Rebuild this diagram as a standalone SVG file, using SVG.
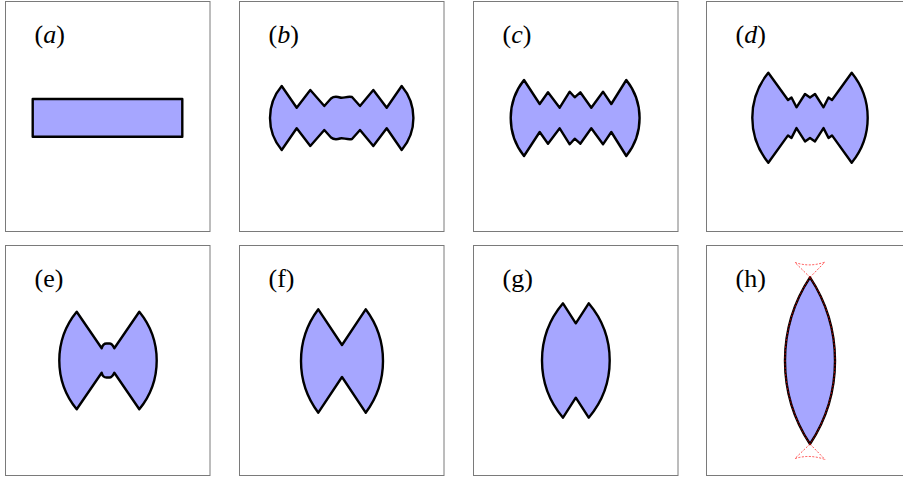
<svg xmlns="http://www.w3.org/2000/svg" width="903" height="479" viewBox="0 0 903 479">
<style>
.frame{fill:#fff;stroke:#7a7a7a;stroke-width:1}
.shape{fill:#a6a6ff;stroke:#000;stroke-width:2.4;stroke-linejoin:round}
.lbl{font-family:"Liberation Serif","Times New Roman",serif;font-size:26px;fill:#000}
.red{fill:none;stroke:#f00;stroke-opacity:0.75;stroke-width:0.9;stroke-dasharray:2 1.5}
</style>
<rect width="903" height="479" fill="#fff"/>
<g id="panel-a">
<rect class="frame" x="5.5" y="1.5" width="204.5" height="230"/>
<text class="lbl" x="34.5" y="43">(<tspan font-style="italic">a</tspan>)</text>
<rect class="shape" x="32.7" y="99" width="149.6" height="37.7"/>
</g>
<g id="panel-b">
<rect class="frame" x="239.5" y="1.5" width="204.5" height="230"/>
<text class="lbl" x="268.5" y="43">(<tspan font-style="italic">b</tspan>)</text>
<path class="shape" d="M281.7 86 L296.7 107.7 L310.3 90 L324.3 106 L331 98.5 C334 96 337 96.5 340 97.5 C343 98.5 347 96 352 97 L360 106 L373.3 90 L386.7 107.7 L401.7 86 A49.6 49.6 0 0 1 401.7 150 L386.7 128.3 L373.3 146 L360 130 L352 139 C347 140 343 137.5 340 138.5 C337 139.5 334 140 331 137.5 L324.3 130 L310.3 146 L296.7 128.3 L281.7 150 A49.6 49.6 0 0 1 281.7 86 Z"/>
</g>
<g id="panel-c">
<rect class="frame" x="473.5" y="1.5" width="204.5" height="230"/>
<text class="lbl" x="502.5" y="43">(<tspan font-style="italic">c</tspan>)</text>
<path class="shape" d="M524 80 L539.7 104 L548 92.3 L559.7 107.7 L569.7 91.7 L574.7 97.3 L580.3 92.3 L591.3 107.7 L603 91.7 L611.3 104 L626.3 80 A61 61 0 0 1 626.3 156 L611.3 132 L603 144.3 L591.3 128.3 L580.3 143.7 L574.7 138.7 L569.7 144.3 L559.7 128.3 L548 143.7 L539.7 132 L524 156 A61 61 0 0 1 524 80 Z"/>
</g>
<g id="panel-d">
<rect class="frame" x="706.5" y="1.5" width="204.5" height="230"/>
<text class="lbl" x="735.5" y="43">(<tspan font-style="italic">d</tspan>)</text>
<path class="shape" d="M768.3 72.7 L788 100 L791.5 97.5 L796.5 107.3 L805 94 L810 97.5 L815 94 L823.5 107.3 L828.5 97.5 L832 100 L851.7 72.7 A71.3 71.3 0 0 1 851.7 162.7 L832 135.4 L828.5 137.9 L823.5 128.1 L815 141.4 L810 137.9 L805 141.4 L796.5 128.1 L791.5 137.9 L788 135.4 L768.3 162.7 A71.3 71.3 0 0 1 768.3 72.7 Z"/>
</g>
<g id="panel-e">
<rect class="frame" x="5.5" y="245.5" width="204.5" height="230"/>
<text class="lbl" x="34.5" y="287">(e)</text>
<path class="shape" d="M76.7 311.7 L101.7 348.3 C102.5 345 104 343.5 106.5 343.5 L109.5 343.5 C112 343.5 113 345.5 114.3 348.3 L139.3 311.7 A77.1 77.1 0 0 1 139.3 409.3 L114.3 372.7 C113 375.5 112 377.5 109.5 377.5 L106.5 377.5 C104 377.5 102.5 376 101.7 372.7 L76.7 409.3 A77.1 77.1 0 0 1 76.7 311.7 Z"/>
</g>
<g id="panel-f">
<rect class="frame" x="239.5" y="245.5" width="204.5" height="230"/>
<text class="lbl" x="268.5" y="287">(f)</text>
<path class="shape" d="M318.3 309.3 L342 345 L365.7 309.3 A85.9 85.9 0 0 1 365.7 412.7 L342 377 L318.3 412.7 A85.9 85.9 0 0 1 318.3 309.3 Z"/>
</g>
<g id="panel-g">
<rect class="frame" x="473.5" y="245.5" width="204.5" height="230"/>
<text class="lbl" x="502.5" y="287">(g)</text>
<path class="shape" d="M563 303.3 L575.8 323.3 L588.7 303.3 A88.4 88.4 0 0 1 588.7 417.7 L575.8 397.7 L563 417.7 A88.4 88.4 0 0 1 563 303.3 Z"/>
</g>
<g id="panel-h">
<rect class="frame" x="706.5" y="245.5" width="204.5" height="230"/>
<text class="lbl" x="735.5" y="287">(h)</text>
<path class="shape" d="M810 277.3 A151.4 151.4 0 0 0 810 444 A151.4 151.4 0 0 0 810 277.3 Z"/>
<path class="red" d="M810 277.3 A151.4 151.4 0 0 0 810 444 A151.4 151.4 0 0 0 810 277.3 Z"/>
<path class="red" d="M810 277.3 L795 262.5 M810 277.3 L825 262 M795 262.5 Q810 267.5 825 262"/>
<path class="red" d="M810 444 L795 458.5 M810 444 L825 459.5 M795 458.5 Q810 454 825 459.5"/>
</g>
</svg>
